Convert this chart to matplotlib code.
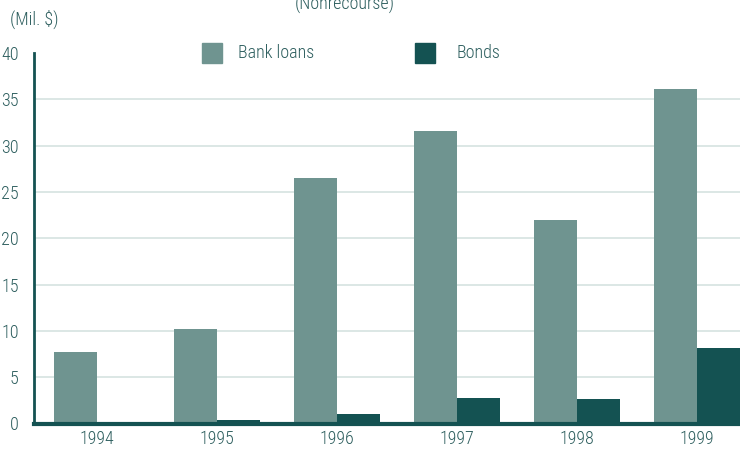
import matplotlib.pyplot as plt
import matplotlib.patches as mpatches
import numpy as np

years = ['1994', '1995', '1996', '1997', '1998', '1999']
bank_loans = [7.7, 10.2, 26.5, 31.6, 22.0, 36.1]
bonds = [0.0, 0.4, 1.0, 2.7, 2.6, 8.2]
y_ticks = [0, 5, 10, 15, 20, 25, 30, 35, 40]

BANK = '#6f9490'
BOND = '#145252'
TEXT = '#2d5e5e'
GRID = '#d6e3e0'

plt.rcParams['font.family'] = ['Roboto Condensed', 'DejaVu Sans']
plt.rcParams['font.weight'] = 'light'
FS = 13

fig = plt.figure(figsize=(7.4, 4.49), dpi=100)
ax = fig.add_axes([34 / 740, 25.5 / 449, 706 / 740, 370.5 / 449])

x = np.arange(len(years))
w = 0.358
ax.bar(x - w / 2, bank_loans, w, color=BANK, zorder=3)
ax.bar(x + w / 2, bonds, w, color=BOND, zorder=3)

ax.set_xlim(-0.525, 5 + w)
ax.set_ylim(0, 40)
ax.set_yticks(y_ticks)
ax.set_xticks(x)
ax.set_xticklabels(years)
ax.tick_params(length=0, colors=TEXT, labelsize=FS)
ax.tick_params(axis='y', pad=11)
ax.tick_params(axis='x', pad=4.5)

for v in y_ticks[1:-1]:
    ax.axhline(v, color=GRID, lw=1.2, zorder=1)

for s in ['top', 'right']:
    ax.spines[s].set_visible(False)
ax.spines['left'].set_color(BOND)
ax.spines['left'].set_linewidth(2)
ax.spines['bottom'].set_color(BOND)
ax.spines['bottom'].set_linewidth(3)
ax.spines['bottom'].set_zorder(4)

fig.text(10 / 740, 1 - 19 / 449, '(Mil. $)', color=TEXT, fontsize=FS,
         ha='left', va='center')
fig.text(345 / 740, 1 - 4 / 449, '(Nonrecourse)', color=TEXT, fontsize=FS,
         ha='center', va='center')

# legend drawn by hand as two swatches with labels
fig.patches.append(mpatches.Rectangle((202 / 740, 1 - 63 / 449), 20 / 740, 20 / 449,
                                      transform=fig.transFigure, color=BANK))
fig.text(238 / 740, 1 - 53 / 449, 'Bank loans', color=TEXT, fontsize=FS,
         ha='left', va='center')
fig.patches.append(mpatches.Rectangle((415 / 740, 1 - 63 / 449), 20 / 740, 20 / 449,
                                      transform=fig.transFigure, color=BOND))
fig.text(456 / 740, 1 - 53 / 449, 'Bonds', color=TEXT, fontsize=FS,
         ha='left', va='center')

fig.savefig('out.png', dpi=100)
